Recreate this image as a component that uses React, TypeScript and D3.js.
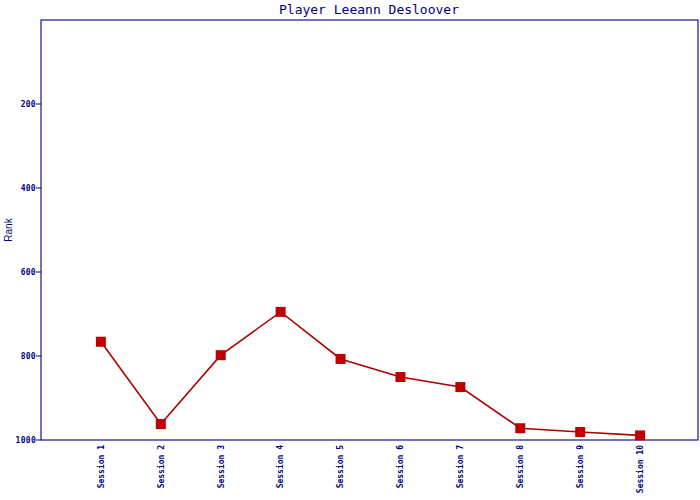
import * as d3 from "d3";
import { useEffect, useRef } from "react";

const title = "Player Leeann Desloover";
const sessions = [
  "Session 1",
  "Session 2",
  "Session 3",
  "Session 4",
  "Session 5",
  "Session 6",
  "Session 7",
  "Session 8",
  "Session 9",
  "Session 10",
];
const ranks = [766, 962, 798, 695, 807, 850, 874, 972, 981, 989];
const yTicks = [200, 400, 600, 800, 1000];

export default function App() {
  const svgRef = useRef(null);

  useEffect(() => {
    const width = 700;
    const height = 500;
    const left = 41;
    const right = 698;
    const top = 20;
    const bottom = 440;
    const navy = "#000080";

    const svg = d3.select(svgRef.current).attr("width", width).attr("height", height);
    svg.selectAll("*").remove();

    svg.append("rect").attr("width", width).attr("height", height).attr("fill", "#fff");

    // x: sessions sit at 1..10 on an 11-slot axis
    const x = d3.scaleLinear().domain([0, sessions.length + 1]).range([left, 700]);
    const y = d3.scaleLinear().domain([0, 1000]).range([top, bottom]);

    // frame
    svg
      .append("rect")
      .attr("x", left)
      .attr("y", top)
      .attr("width", right - left)
      .attr("height", bottom - top)
      .attr("fill", "none")
      .attr("stroke", navy)
      .attr("stroke-width", 1.1);

    // title
    svg
      .append("text")
      .attr("x", 369)
      .attr("y", 14)
      .attr("text-anchor", "middle")
      .attr("font-family", "DejaVu Sans Mono")
      .attr("font-size", 13)
      .attr("fill", navy)
      .text(title);

    // y ticks
    const yt = svg.append("g");
    yt.selectAll("line")
      .data(yTicks)
      .enter()
      .append("line")
      .attr("x1", left - 5)
      .attr("x2", left)
      .attr("y1", (d) => y(d))
      .attr("y2", (d) => y(d))
      .attr("stroke", navy);
    yt.selectAll("text")
      .data(yTicks)
      .enter()
      .append("text")
      .attr("x", left - 5)
      .attr("y", (d) => y(d))
      .attr("dy", "0.35em")
      .attr("text-anchor", "end")
      .attr("font-family", "DejaVu Sans Mono")
      .attr("font-weight", "bold")
      .attr("font-size", 8)
      .attr("letter-spacing", 0.3)
      .attr("fill", navy)
      .text((d) => d);

    // y label
    svg
      .append("text")
      .attr("transform", `translate(8,${(top + bottom) / 2}) rotate(-90)`)
      .attr("text-anchor", "middle")
      .attr("dy", "0.35em")
      .attr("font-family", "Liberation Sans")
      .attr("font-size", 10)
      .attr("fill", navy)
      .text("Rank");

    // x labels
    svg
      .append("g")
      .selectAll("text")
      .data(sessions)
      .enter()
      .append("text")
      .attr("transform", (d, i) => `translate(${x(i + 1)},${bottom + 5}) rotate(-90)`)
      .attr("text-anchor", "end")
      .attr("dy", "0.35em")
      .attr("font-family", "DejaVu Sans Mono")
      .attr("font-weight", "bold")
      .attr("font-size", 8)
      .attr("fill", navy)
      .text((d) => d);

    // line
    const line = d3
      .line<number>()
      .x((d, i) => x(i + 1))
      .y((d) => y(d));
    svg
      .append("path")
      .datum(ranks)
      .attr("d", line)
      .attr("fill", "none")
      .attr("stroke", "#b00000")
      .attr("stroke-width", 1.6);

    // markers
    svg
      .append("g")
      .selectAll("rect")
      .data(ranks)
      .enter()
      .append("rect")
      .attr("x", (d, i) => x(i + 1) - 5)
      .attr("y", (d) => y(d) - 5)
      .attr("width", 10)
      .attr("height", 10)
      .attr("fill", "#c00000");
  }, []);

  return <svg ref={svgRef} style={{ position: "absolute", left: 0, top: 0 }}></svg>;
}
